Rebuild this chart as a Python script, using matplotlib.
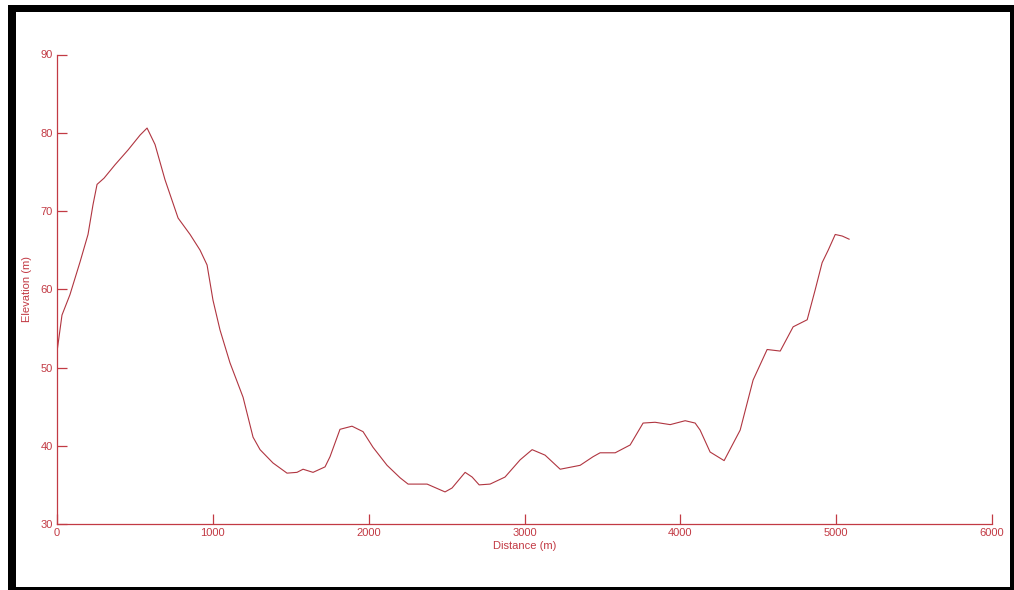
import matplotlib.pyplot as plt
from matplotlib.patches import Rectangle

# elevation profile along the route
distance_m = [0, 32, 83, 148, 199, 231, 257, 302, 372, 456, 533, 578, 629, 693,
              777, 854, 918, 963, 1001, 1046, 1110, 1194, 1258, 1303, 1386, 1476,
              1540, 1579, 1643, 1720, 1752, 1816, 1893, 1964, 2028, 2118, 2202,
              2253, 2375, 2490, 2535, 2619, 2664, 2709, 2779, 2875, 2972, 3049,
              3132, 3229, 3306, 3357, 3440, 3485, 3582, 3678, 3761, 3838, 3935,
              4031, 4095, 4127, 4191, 4281, 4384, 4467, 4557, 4641, 4724, 4814,
              4865, 4910, 4949, 4994, 5039, 5083]
elevation_m = [52.0, 56.7, 59.3, 63.5, 67.0, 70.8, 73.4, 74.2, 75.9, 77.8, 79.7,
               80.6, 78.5, 74.0, 69.1, 67.0, 65.0, 63.1, 58.6, 54.8, 50.6, 46.2,
               41.1, 39.5, 37.8, 36.5, 36.6, 37.0, 36.6, 37.3, 38.6, 42.1, 42.5,
               41.8, 39.8, 37.5, 35.9, 35.1, 35.1, 34.1, 34.6, 36.6, 36.0, 35.0,
               35.1, 36.0, 38.2, 39.5, 38.8, 37.0, 37.3, 37.5, 38.6, 39.1, 39.1,
               40.1, 42.9, 43.0, 42.7, 43.2, 42.9, 42.0, 39.2, 38.1, 42.0, 48.4,
               52.3, 52.1, 55.2, 56.1, 59.9, 63.4, 65.0, 67.0, 66.8, 66.4]

x_ticks = [0, 1000, 2000, 3000, 4000, 5000, 6000]
y_ticks = [30, 40, 50, 60, 70, 80, 90]

RED = "#c23a44"
LINE = "#b03540"
W, H = 1014, 590

fig = plt.figure(figsize=(W / 100, H / 100), dpi=100)
plt.rcParams["font.family"] = ["Liberation Sans", "DejaVu Sans"]

# black frame around the plot
fig.add_artist(Rectangle((8 / W, 0), 1 - 8 / W, 1 - 5 / H, transform=fig.transFigure,
                         facecolor="black", edgecolor="none", zorder=0))
fig.add_artist(Rectangle((16 / W, 3 / H), (1010 - 16) / W, (587 - 12) / H,
                         transform=fig.transFigure, facecolor="white",
                         edgecolor="none", zorder=0))

ax = fig.add_axes([57 / W, 1 - 524 / H, (992 - 57) / W, (524 - 54.5) / H])
ax.patch.set_visible(False)
ax.plot(distance_m, elevation_m, color=LINE, linewidth=0.8)

ax.set_xlim(0, 6000)
ax.set_ylim(30, 90)
ax.set_xticks(x_ticks)
ax.set_yticks(y_ticks)

for side in ["top", "right"]:
    ax.spines[side].set_visible(False)
for side in ["left", "bottom"]:
    ax.spines[side].set_color(RED)
    ax.spines[side].set_linewidth(0.9)

ax.tick_params(direction="in", length=7, width=0.9, color=RED,
               labelcolor=RED, labelsize=8, pad=3)
ax.set_xlabel("Distance (m)", color=RED, fontsize=8, labelpad=2)
ax.set_ylabel("Elevation (m)", color=RED, fontsize=8, labelpad=6)

fig.savefig("out.png", dpi=100)
